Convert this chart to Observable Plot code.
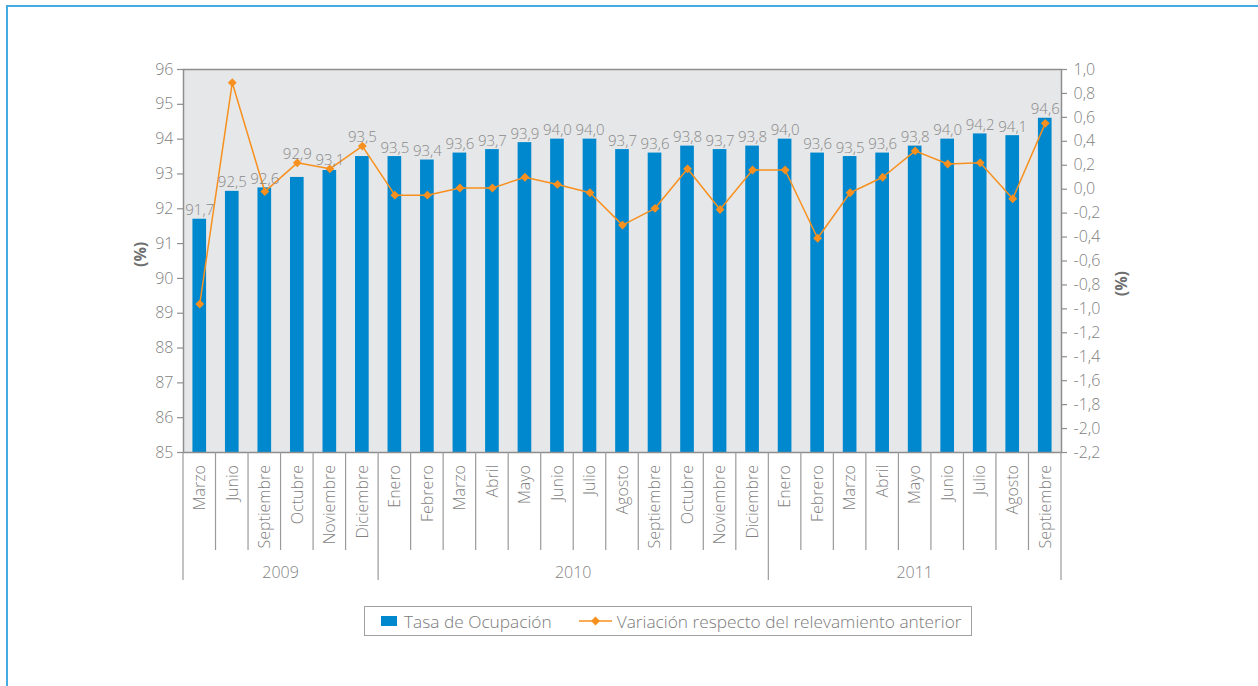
<!DOCTYPE html>
<html>
<head>
<meta charset="utf-8">
<script src="https://cdn.jsdelivr.net/npm/d3@7"></script>
<script src="https://cdn.jsdelivr.net/npm/@observablehq/plot@0.6"></script>
<style>
  html, body { margin: 0; padding: 0; background: #fff; overflow: hidden; }
  body { width: 1258px; height: 686px; position: relative; font-family: "Open Sans", "Liberation Sans", sans-serif; font-weight: 300; }
  #frame { position: absolute; left: 6px; top: 5px; width: 1400px; height: 900px; border: 2px solid #45ace3; box-sizing: border-box; }
  #chart { position: absolute; left: 0; top: 0; }
  #legend { position: absolute; left: 364px; top: 606px; width: 608px; height: 30px; box-sizing: border-box;
    border: 1px solid #a0a0a0; display: flex; align-items: center; padding-left: 16px; color: #7b7b7b; font-size: 17.3px; }
  #legend .sw { display: inline-block; width: 16px; height: 10px; background: #0088cf; margin-right: 7px; }
  #legend .ln { margin-left: 27px; margin-right: 5px; }
</style>
</head>
<body>
<div id="frame"></div>
<div id="chart"></div>
<div id="legend">
  <span class="sw"></span><span>Tasa de Ocupación</span>
  <svg class="ln" width="33" height="12"><line x1="0" y1="6" x2="33" y2="6" stroke="#f7901e" stroke-width="1.5"></line><path d="M16.5,1.5L21,6L16.5,10.5L12,6Z" fill="#f7901e"></path></svg>
  <span>Variación respecto del relevamiento anterior</span>
</div>
<script>
// ---- Data ----
const months = ["Marzo","Junio","Septiembre","Octubre","Noviembre","Diciembre",
  "Enero","Febrero","Marzo","Abril","Mayo","Junio","Julio","Agosto","Septiembre","Octubre","Noviembre","Diciembre",
  "Enero","Febrero","Marzo","Abril","Mayo","Junio","Julio","Agosto","Septiembre"];
const years = [2009,2009,2009,2009,2009,2009,
  2010,2010,2010,2010,2010,2010,2010,2010,2010,2010,2010,2010,
  2011,2011,2011,2011,2011,2011,2011,2011,2011];
const tasa = [91.7,92.5,92.6,92.9,93.1,93.5,
  93.5,93.4,93.6,93.7,93.9,94.0,94.0,93.7,93.6,93.8,93.7,93.8,
  94.0,93.6,93.5,93.6,93.8,94.0,94.15,94.1,94.6];
const variacion = [-0.96,0.89,-0.02,0.22,0.17,0.36,
  -0.05,-0.05,0.01,0.01,0.10,0.04,-0.03,-0.30,-0.16,0.17,-0.17,0.16,
  0.16,-0.41,-0.03,0.10,0.32,0.21,0.22,-0.08,0.55];
const leftTicks = [85,86,87,88,89,90,91,92,93,94,95,96];
const rightTicks = [1.0,0.8,0.6,0.4,0.2,0.0,-0.2,-0.4,-0.6,-0.8,-1.0,-1.2,-1.4,-1.6,-1.8,-2.0,-2.2];
const yearList = [2009, 2010, 2011];

// ---- Helpers ----
const L0 = 85, L1 = 96, R0 = -2.2, R1 = 1.0;
const toLeft = v => L0 + (v - R0) * (L1 - L0) / (R1 - R0);
const fromLeft = d => R0 + (d - L0) * (R1 - R0) / (L1 - L0);
const fmt = v => { let s = (Math.round(v * 10) / 10).toFixed(1).replace(".", ","); return s === "-0,0" ? "0,0" : s; };

const ids = months.map((m, i) => `${years[i]}|${m}|${i}`);
const data = ids.map((id, i) => ({id, month: months[i], year: years[i], tasa: tasa[i], variacion: variacion[i]}));
// value labels sit above the bar, or above the line marker when it sits just above the bar
const labelY = d => { const m = toLeft(d.variacion); return (m > d.tasa && m - d.tasa < 0.5) ? m : d.tasa; };

const FONT = '"Open Sans", "Liberation Sans", sans-serif';
const TXT = "#7f7f7f";
const ORANGE = "#f7901e";

// custom hierarchical x axis, using Plot's x and y scales
function xHierarchy(index, scales, values, dims) {
  const x = scales.x, y = scales.y;
  const step = x(ids[1]) - x(ids[0]);
  const bw = typeof x.bandwidth === "function" ? x.bandwidth() : step * 0.42;
  const off = (step - bw) / 2;
  const y0 = y(85);
  const g = d3.create("svg:g").attr("font-family", FONT).attr("font-weight", 300);
  const edge = i => i >= ids.length ? x(ids[ids.length - 1]) - off + step : x(ids[i]) - off;
  for (let i = 0; i <= ids.length; i++) {
    const isYear = i === 0 || i === ids.length || years[i] !== years[i - 1];
    g.append("line")
      .attr("x1", edge(i)).attr("x2", edge(i))
      .attr("y1", y0).attr("y2", y0 + (isYear ? 128 : 98))
      .attr("stroke", "#9a9a9a").attr("stroke-width", 1.2);
  }
  ids.forEach((id, i) => {
    const cx = x(id) + bw / 2;
    g.append("text")
      .attr("transform", `translate(${cx},${y0 + 13}) rotate(-90)`)
      .attr("text-anchor", "end").attr("dy", "0.36em")
      .attr("font-size", 16).attr("fill", TXT)
      .text(months[i]);
  });
  yearList.forEach(yr => {
    const first = years.indexOf(yr), last = years.lastIndexOf(yr);
    const cx = (edge(first) + edge(last + 1)) / 2;
    g.append("text")
      .attr("x", cx).attr("y", y0 + 120).attr("dy", "0.36em")
      .attr("text-anchor", "middle").attr("font-size", 16).attr("fill", TXT)
      .text(yr);
  });
  return g.node();
}

const chart = Plot.plot({
  width: 1258,
  height: 600,
  marginLeft: 183,
  marginRight: 197,
  marginTop: 69,
  marginBottom: 148,
  style: {fontFamily: FONT, fontSize: "16px", fontWeight: 300, color: TXT, background: "transparent", overflow: "visible"},
  x: {type: "band", domain: ids, paddingInner: 0.58, paddingOuter: 0.29, round: false, axis: null},
  y: {domain: [85, 96], axis: null},
  marks: [
    Plot.frame({fill: "#e6e7e8", stroke: null}),
    Plot.barY(data, {x: "id", y1: 85, y2: "tasa", fill: "#0088cf"}),
    Plot.frame({stroke: "#8e8e8e", strokeWidth: 1.5}),
    Plot.axisY({anchor: "left", ticks: leftTicks, tickSize: 6, tickPadding: 4, tickFormat: d => String(d),
      fontSize: 16, label: null, stroke: "#8e8e8e", strokeWidth: 1.2}),
    Plot.axisY({anchor: "right", ticks: rightTicks.map(toLeft), tickSize: 5, tickPadding: 7,
      tickFormat: d => fmt(fromLeft(d)), fontSize: 16, label: null, stroke: "#8e8e8e", strokeWidth: 1.2}),
    Plot.text(["(%)"], {frameAnchor: "left", dx: -43, dy: 6, rotate: -90, fontWeight: "bold", fontSize: 16, fill: "#6f6f6f"}),
    Plot.text(["(%)"], {frameAnchor: "right", dx: 60, dy: 10, rotate: -90, fontWeight: "bold", fontSize: 16, fill: "#6f6f6f"}),
    Plot.line(data, {x: "id", y: d => toLeft(d.variacion), stroke: ORANGE, strokeWidth: 1.5}),
    Plot.dot(data, {x: "id", y: d => toLeft(d.variacion), symbol: "diamond2", r: 4, fill: ORANGE, stroke: null}),
    Plot.text(data, {x: "id", y: labelY, text: d => fmt(d.tasa), dy: -4, lineAnchor: "bottom", fontSize: 15, fill: "#8a8a8a"}),
    xHierarchy
  ]
});
document.getElementById("chart").appendChild(chart);
</script>
</body>
</html>
